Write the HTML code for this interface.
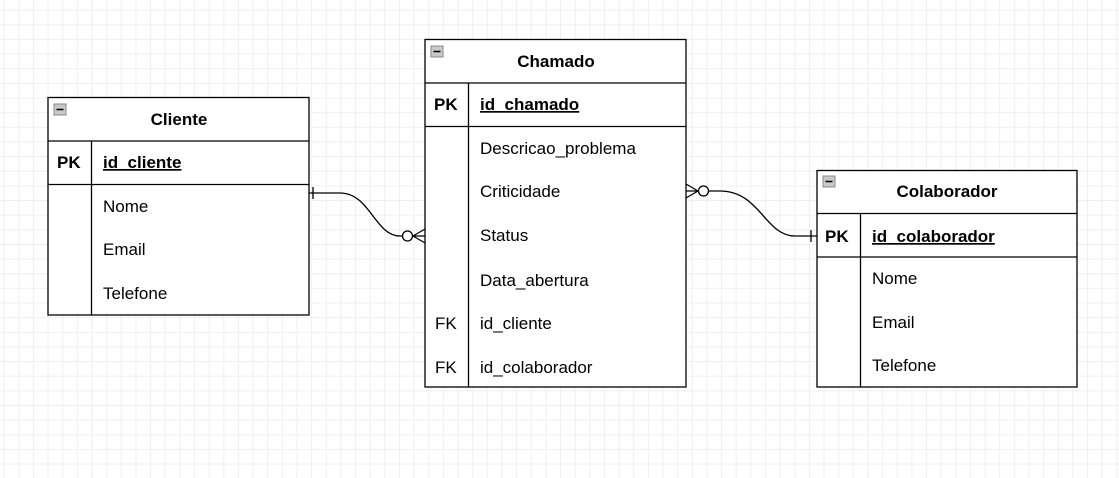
<!DOCTYPE html>
<html><head><meta charset="utf-8"><style>
html,body{margin:0;padding:0;}
body{width:1119px;height:478px;position:relative;overflow:hidden;background:#fff;
background-image:linear-gradient(#efefef 1px,transparent 1px),linear-gradient(90deg,#efefef 1px,transparent 1px);
background-size:14.65px 14.65px;background-position:3.7px 9.7px;font-family:"Liberation Sans",Arial,sans-serif;color:#000;}
</style></head><body>
<svg width="1119" height="478" style="position:absolute;left:0;top:0" font-family="Liberation Sans, Arial, sans-serif">
<defs>
<g id="ic"><rect x="0" y="0" width="12" height="11" fill="#c8c8c8" stroke="#8a8a8a" stroke-width="1"/><line x1="2.5" y1="5.5" x2="9.5" y2="5.5" stroke="#000" stroke-width="1.5"/></g>
</defs>
<g stroke="#000" stroke-width="1.3" fill="#fff">
<rect x="48" y="97.5" width="261" height="217.5"/>
<line x1="48" y1="141" x2="309" y2="141"/>
<line x1="48" y1="184.5" x2="309" y2="184.5"/>
<line x1="91.5" y1="141" x2="91.5" y2="315"/>
<rect x="425" y="39.5" width="261" height="347.5"/>
<line x1="425" y1="83" x2="686" y2="83"/>
<line x1="425" y1="126.5" x2="686" y2="126.5"/>
<line x1="468.5" y1="83" x2="468.5" y2="387"/>
<rect x="817" y="170.5" width="260" height="216.5"/>
<line x1="817" y1="213.5" x2="1077" y2="213.5"/>
<line x1="817" y1="257" x2="1077" y2="257"/>
<line x1="860.5" y1="213.5" x2="860.5" y2="387"/>
</g>
<use href="#ic" x="54" y="104"/>
<use href="#ic" x="431" y="46"/>
<use href="#ic" x="823" y="176"/>
<g font-size="17" font-weight="bold" text-anchor="middle">
<text x="179" y="125">Cliente</text>
<text x="556" y="67">Chamado</text>
<text x="947" y="197">Colaborador</text>
</g>
<g font-size="17" font-weight="bold">
<text x="57" y="168">PK</text>
<text x="103" y="168" text-decoration="underline">id_cliente</text>
<text x="434" y="110">PK</text>
<text x="480" y="110" text-decoration="underline">id_chamado</text>
<text x="825" y="242">PK</text>
<text x="872" y="242" text-decoration="underline">id_colaborador</text>
</g>
<g font-size="17">
<text x="103" y="212">Nome</text>
<text x="103" y="255">Email</text>
<text x="103" y="299">Telefone</text>
<text x="480" y="154">Descricao_problema</text>
<text x="480" y="197">Criticidade</text>
<text x="480" y="241">Status</text>
<text x="480" y="286">Data_abertura</text>
<text x="435" y="329">FK</text><text x="480" y="329">id_cliente</text>
<text x="435" y="373">FK</text><text x="480" y="373">id_colaborador</text>
<text x="872" y="284">Nome</text>
<text x="872" y="328">Email</text>
<text x="872" y="371">Telefone</text>
</g>
<g stroke="#000" stroke-width="1.3" fill="none">
<path d="M309 193 H340 C370 193 375 236 400 236 H402"/>
<line x1="313" y1="187" x2="313" y2="199"/>
<circle cx="407.5" cy="236" r="5" fill="#fff"/>
<path d="M412.5 236 H425 M413 236 L425 229 M413 236 L425 243"/>
<path d="M708.5 191 H720 C760 191 765 236 795 236 H817"/>
<line x1="811" y1="230" x2="811" y2="242"/>
<circle cx="703.5" cy="191" r="5" fill="#fff"/>
<path d="M686 191 H698.5 M686 184 L698 191 M686 198 L698 191"/>
</g>
</svg>
</body></html>
